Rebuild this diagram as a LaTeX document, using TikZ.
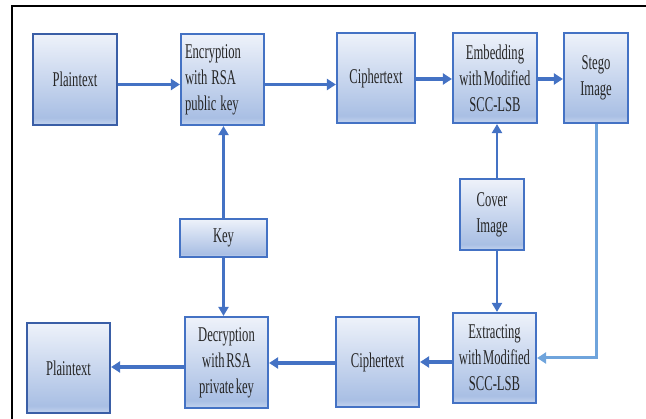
\documentclass[tikz,border=0pt]{standalone}
\usepackage{fontspec}
\setmainfont{Liberation Serif}[FakeStretch=0.6, WordSpace=0.55]
\usetikzlibrary{arrows.meta}
\definecolor{bTop}{HTML}{EEF2FA}
\definecolor{bBot}{HTML}{A9BFE4}
\definecolor{bBotL}{HTML}{C3D3EE}
\definecolor{bEdge}{HTML}{4472C4}
\definecolor{bEdgeD}{HTML}{3A5EA6}
\definecolor{lineC}{HTML}{4472C4}
\definecolor{lightC}{HTML}{6FA4DC}
\pgfdeclareverticalshading{boxshade}{100bp}{color(0bp)=(bBotL); color(25bp)=(bBotL); color(29bp)=(bBot); color(75bp)=(bTop); color(100bp)=(bTop)}
\tikzset{
  box/.style={draw=bEdge, line width=2.2pt, shading=boxshade, inner sep=2pt,
    font=\fontsize{21}{26}\selectfont, align=center, text=black!85},
  pbox/.style={box, draw=bEdgeD},
  arr/.style={draw=lineC, line width=3.6pt, -{Triangle[length=9pt,width=11pt]}},
  varr/.style={draw=lineC, line width=2.5pt, -{Triangle[length=9pt,width=10pt]}},
  larr/.style={draw=lightC, line width=3pt, -{Triangle[length=9pt,width=11pt]}}
}
\begin{document}
\begin{tikzpicture}[x=1pt,y=-1pt]
\useasboundingbox (0,0) rectangle (646,419);
\draw[line width=2.4pt, black] (12,419) coordinate (fl) -- (12,6) -- (646,6) coordinate (fr);
% top row
\node[pbox, minimum width=84, minimum height=91] (p1) at (75,79.5) {Plaintext};
\node[box, minimum width=83, minimum height=91, text width=75, align=left] (enc) at (222.5,79.5) {\spaceskip=0.19em plus 0.05em\relax Encryption\\with RSA\\public key};
\node[box, minimum width=78, minimum height=90] (c1) at (376,78) {Ciphertext};
\node[box, minimum width=84, minimum height=90] (emb) at (495,78) {Embedding\\with Modified\\SCC-LSB};
\node[box, minimum width=64, minimum height=90] (stego) at (596,78) {Stego\\Image};
% middle
\node[box, minimum width=87, minimum height=38] (key) at (223.5,238) {Key};
\node[box, minimum width=64, minimum height=71] (cover) at (492,214.5) {Cover\\Image};
% bottom row
\node[box, minimum width=83, minimum height=91] (dec) at (226.5,362.5) {Decryption\\with RSA\\private key};
\node[pbox, minimum width=83, minimum height=90] (p2) at (68.5,368) {Plaintext};
\node[box, minimum width=83, minimum height=90] (c2) at (377.5,362) {Ciphertext};
\node[box, minimum width=83, minimum height=90] (ext) at (494.5,358) {Extracting\\with Modified\\SCC-LSB};
% connectors
\draw[arr] ([yshift=-5]p1.east) -- ([yshift=-5]p1.east -| enc.west);
\draw[arr] ([yshift=-5]enc.east) -- ([yshift=-5]enc.east -| c1.west);
\draw[arr] ([yshift=-1]c1.east) -- ([yshift=-1]c1.east -| emb.west);
\draw[arr] ([yshift=-1]emb.east) -- ([yshift=-1]emb.east -| stego.west);
\draw[varr] (key.north) -- (key.north |- enc.south);
\draw[varr] (key.south) -- (key.south |- dec.north);
\draw[varr] ([xshift=5]cover.north) -- ([xshift=5]cover.north |- emb.south);
\draw[varr] ([xshift=5]cover.south) -- ([xshift=5]cover.south |- ext.north);
\draw[larr] (stego.south) |- (ext.east);
\draw[arr] ([yshift=-4]ext.west) -- ([yshift=-4]ext.west -| c2.east);
\draw[arr] ([yshift=-1]c2.west) -- ([yshift=-1]c2.west -| dec.east);
\draw[arr] ([yshift=-4.5]dec.west) -- ([yshift=-4.5]dec.west -| p2.east);
\end{tikzpicture}
\end{document}
